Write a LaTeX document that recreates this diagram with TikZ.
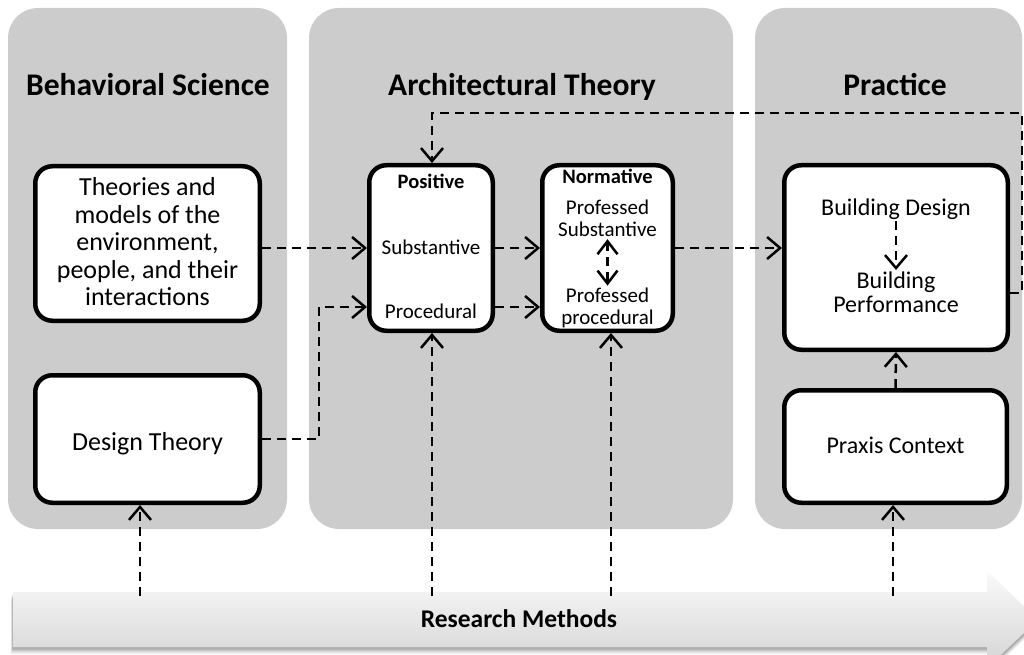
\documentclass[tikz,border=0pt]{standalone}
\usepackage{fontspec}
\setmainfont{Carlito}
\usetikzlibrary{arrows.meta}
\definecolor{panelgray}{HTML}{CCCCCC}
\begin{document}
\begin{tikzpicture}[x=1pt,y=-1pt,
  panel/.style={fill=panelgray, rounded corners=30pt},
  box/.style={draw=black, line width=4.5pt, fill=white, rounded corners=17pt, inner sep=0pt},
  flow/.style={line width=2.5pt, dash pattern=on 9pt off 6pt,
    -{Straight Barb[length=13pt,width=22pt]}},
  twoway/.style={line width=2.5pt, dash pattern=on 9pt off 6pt,
    {Straight Barb[length=13pt,width=20pt]}-{Straight Barb[length=13pt,width=20pt]}},
  txt/.style={inner sep=2pt, text=black},
  title/.style={txt, anchor=base, font=\bfseries\fontsize{31.5}{34}\selectfont},
  big/.style={font=\fontsize{26}{27.5}\selectfont},
  mid/.style={font=\fontsize{24}{24}\selectfont},
  small/.style={font=\fontsize{21}{22}\selectfont},
  smallbold/.style={font=\bfseries\fontsize{20.5}{22}\selectfont}
]
\useasboundingbox (0,0) rectangle (1024,655);
\clip (0,0) rectangle (1024,655);

% three domain panels
\fill[panel] (8,8) rectangle (287,529);
\fill[panel] (309,8) rectangle (733,529);
\fill[panel] (755,8) rectangle (1022,529);

\node[title] (tBS) at (148,96) {Behavioral Science};
\node[title] (tAT) at (522,96) {Architectural Theory};
\node[title] (tPR) at (895,96) {Practice};

% research methods band: soft shadow, then shaded arrow
\foreach \d/\o in {7/0.06,5.5/0.08,4/0.10,2.5/0.12}{
  \fill[black, opacity=\o]
    (13-0.3*\d,592+\d) -- (987,592+\d) -- (987,571+\d) -- (1038,619.5+\d)
    -- (987,668+\d) -- (987,647+\d) -- (13-0.3*\d,647+\d) -- cycle;
}
\shade[top color=black!2, bottom color=black!17]
  (13,592) -- (987,592) -- (987,571) -- (1038,619.5) -- (987,668)
  -- (987,647) -- (13,647) -- cycle;
\node[txt, anchor=base, font=\bfseries\fontsize{25.5}{28}\selectfont] (rm) at (519,627) {Research Methods};

% behavioral science boxes
\node[box, minimum width=224.5pt, minimum height=154.5pt] (theo) at (147.5,243.5) {};
\node[txt, big, align=center] (theotxt) at (147.5,242)
  {Theories and\\models of the\\environment,\\people, and their\\interactions};
\node[box, minimum width=224.5pt, minimum height=127.5pt] (dt) at (147.5,439) {};
\node[txt, big, anchor=base] (dttxt) at (147.5,450) {Design Theory};

% architectural theory boxes
\node[box, minimum width=123.5pt, minimum height=165.5pt] (pos) at (431,248) {};
\node[txt, smallbold, anchor=base] (postitle) at (431,188) {Positive};
\node[txt, small, anchor=base] (psub) at (431,254) {Substantive};
\node[txt, small, anchor=base] (pproc) at (431,318) {Procedural};

\node[box, minimum width=130.5pt, minimum height=165.5pt] (norm) at (607.5,248) {};
\node[txt, smallbold, anchor=base] (normtitle) at (607.5,183) {Normative};
\node[txt, small, align=center] (nsub) at (607.5,218.6) {Professed\\Substantive};
\node[txt, small, align=center] (nproc) at (607.5,307.8) {Professed\\procedural};

% practice boxes
\node[box, minimum width=223.5pt, minimum height=184.5pt] (bld) at (896,257.5) {};
\node[txt, mid, anchor=base] (bdes) at (896,215) {Building Design};
\node[txt, mid, align=center] (bperf) at (896,292.6) {Building\\Performance};
\node[box, minimum width=222.5pt, minimum height=112.5pt] (prx) at (895.5,446.5) {};
\node[txt, mid, anchor=base] (prxtxt) at (895.5,453) {Praxis Context};

% connectors
\coordinate (jn) at (319,307);
\coordinate (fbA) at (1022,293);
\coordinate (fbB) at (432,113);
\draw[flow] (theo.east |- pos.west) -- (pos.west);
\draw[flow] (dt.east) -| (jn) -- (pos.west |- jn);
\draw[flow] (pos.east) -- (norm.west);
\draw[flow] (pos.east |- jn) -- (norm.west |- jn);
\draw[flow] (norm.east) -- (bld.west |- norm.east);
\draw[twoway] (nsub) -- (nproc);
\draw[flow] (bdes) -- (bperf);
\draw[flow] (prx.north) -- (bld.south);
\draw[flow] (bld.east |- fbA) -- (fbA) |- (fbB) -- (pos.north -| fbB);

% links from research methods
\coordinate (b1) at (140,596);
\coordinate (b2) at (432,596);
\coordinate (b3) at (611,596);
\coordinate (b4) at (893,596);
\draw[flow] (b1) -- (dt.south -| b1);
\draw[flow] (b2) -- (pos.south -| b2);
\draw[flow] (b3) -- (norm.south -| b3);
\draw[flow] (b4) -- (prx.south -| b4);
\end{tikzpicture}
\end{document}
